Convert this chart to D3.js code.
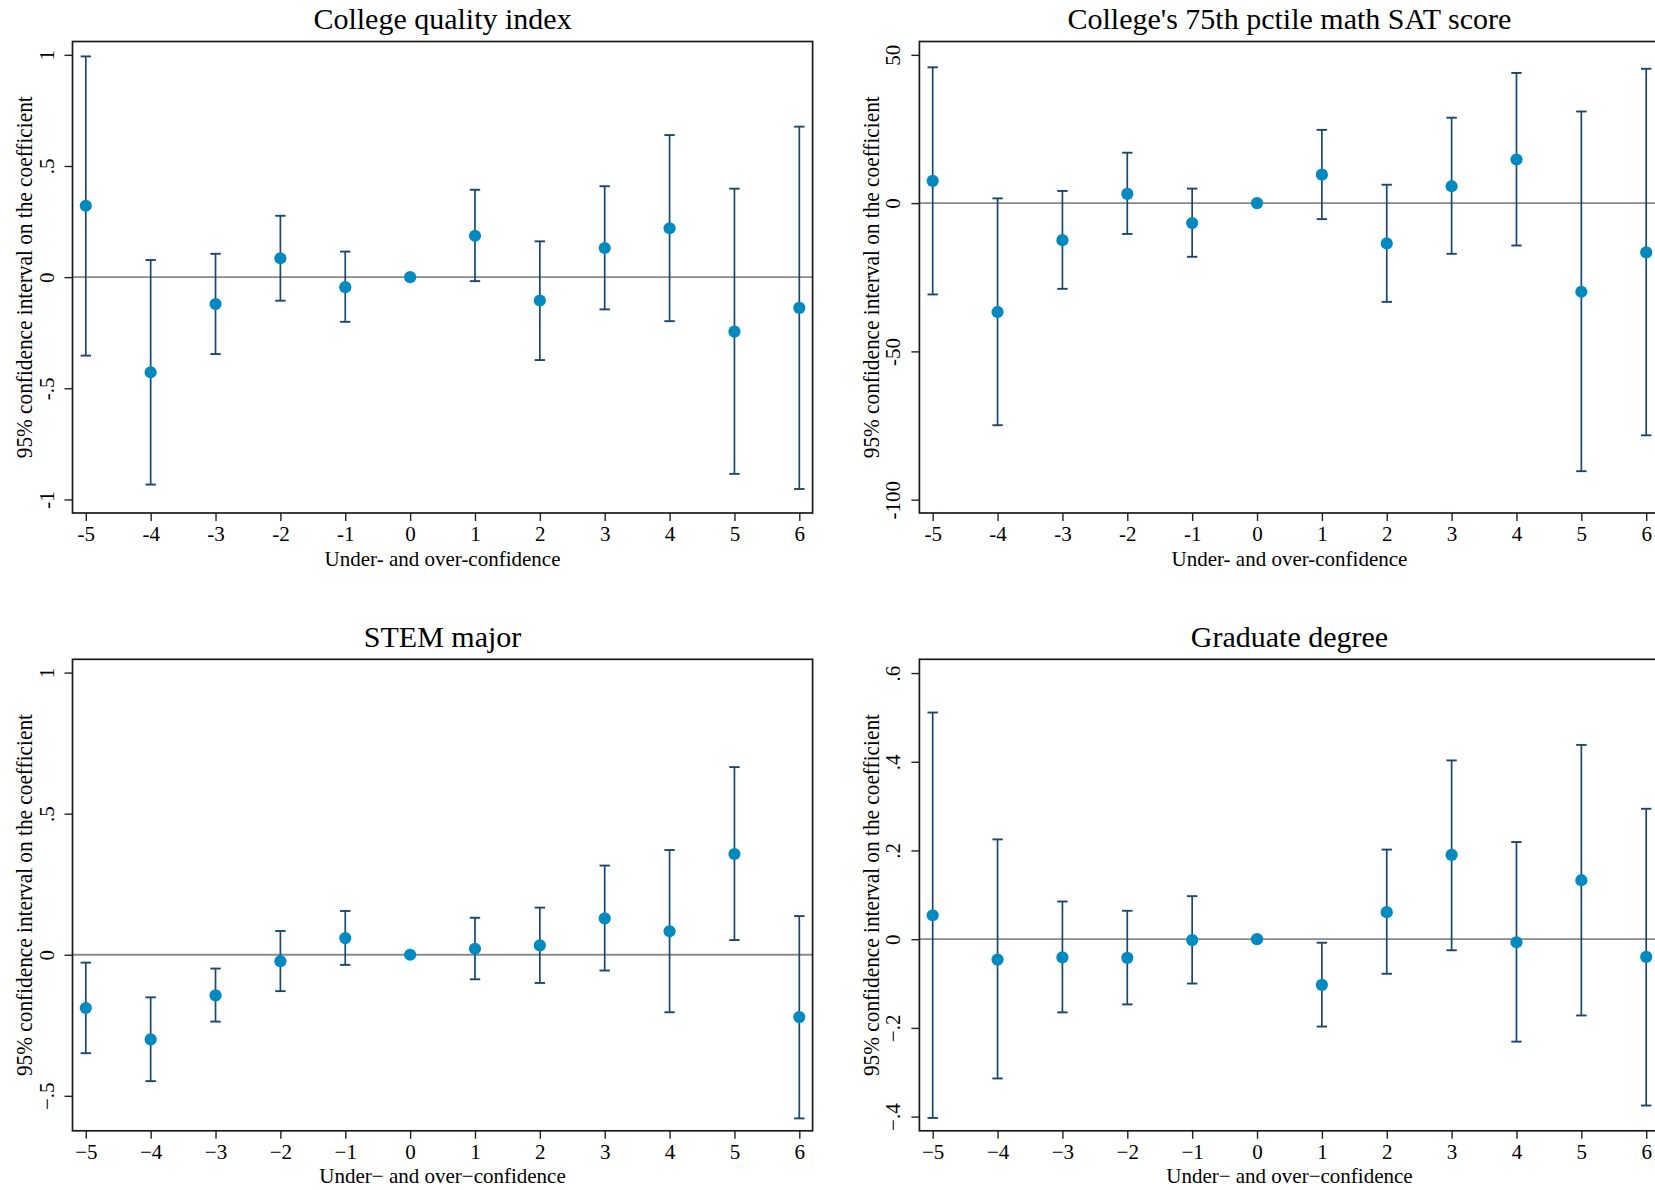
<!DOCTYPE html>
<html><head><meta charset="utf-8">
<script src="https://cdn.jsdelivr.net/npm/d3@7"></script>
<style>
html,body{margin:0;padding:0;background:#fff;overflow:hidden;}
svg{display:block;}
text{font-family:"Liberation Serif","Times New Roman",serif;fill:#000;}
</style></head>
<body>
<svg id="chart" width="1655" height="1190"></svg>
<script>
// ---------- data ----------
const categories = [-5,-4,-3,-2,-1,0,1,2,3,4,5,6];

const titles = ["College quality index","College's 75th pctile math SAT score","STEM major","Graduate degree"];
const yAxisTitle = "95% confidence interval on the coefficient";
const xAxisTitlesTop = "Under- and over-confidence";
const xAxisTitlesBottom = "Under\u2212 and over\u2212confidence";

const xTickLabelsTop = ["-5","-4","-3","-2","-1","0","1","2","3","4","5","6"];
const xTickLabelsBottom = ["\u22125","\u22124","\u22123","\u22122","\u22121","0","1","2","3","4","5","6"];

const cqiEst = [0.321,-0.428,-0.121,0.085,-0.045,0,0.186,-0.105,0.131,0.220,-0.245,-0.138];
const cqiLo  = [-0.353,-0.933,-0.346,-0.106,-0.201,0,-0.018,-0.373,-0.145,-0.198,-0.885,-0.953];
const cqiHi  = [0.993,0.077,0.105,0.276,0.115,0,0.393,0.161,0.409,0.639,0.398,0.677];
const cqiTicks = [1,0.5,0,-0.5,-1];
const cqiTickLabels = ["1",".5","0","-.5","-1"];

const satEst = [7.5,-36.7,-12.5,3.1,-6.7,0,9.6,-13.6,5.7,14.7,-29.9,-16.6];
const satLo  = [-30.8,-74.9,-28.9,-10.4,-18.1,0,-5.4,-33.3,-17.1,-14.3,-90.4,-78.3];
const satHi  = [45.8,1.6,4.1,17.0,4.9,0,24.7,6.2,28.8,43.9,30.9,45.3];
const satTicks = [50,0,-50,-100];
const satTickLabels = ["50","0","-50","-100"];

const stemEst = [-0.189,-0.300,-0.144,-0.023,0.059,0,0.021,0.033,0.129,0.083,0.357,-0.221];
const stemLo  = [-0.349,-0.448,-0.237,-0.129,-0.036,0,-0.087,-0.100,-0.056,-0.204,0.052,-0.580];
const stemHi  = [-0.028,-0.151,-0.049,0.084,0.155,0,0.131,0.167,0.316,0.371,0.665,0.137];
const stemTicks = [1,0.5,0,-0.5];
const stemTickLabels = ["1",".5","0","\u2212.5"];

const gradEst = [0.054,-0.046,-0.041,-0.042,-0.002,0,-0.103,0.061,0.190,-0.007,0.133,-0.040];
const gradLo  = [-0.403,-0.314,-0.165,-0.147,-0.100,0,-0.197,-0.078,-0.025,-0.231,-0.172,-0.375];
const gradHi  = [0.511,0.225,0.085,0.064,0.097,0,-0.008,0.202,0.403,0.219,0.438,0.294];
const gradTicks = [0.6,0.4,0.2,0,-0.2,-0.4];
const gradTickLabels = [".6",".4",".2","0","\u2212.2","\u2212.4"];

// ---------- layout ----------
const svg = d3.select("#chart");
const BOX_W = 740.1, BOX_H = 471.5;
const COL_X = [72.5, 919.4];
const ROW_Y = [41.5, 659.3];
const X_DOMAIN = [-5.205, 6.205];

const panels = [
  {title:titles[0], est:cqiEst, lo:cqiLo, hi:cqiHi, ticks:cqiTicks, tickLabels:cqiTickLabels, yDomain:[-1.061,1.060], xLabels:xTickLabelsTop, xTitle:xAxisTitlesTop, col:0, row:0},
  {title:titles[1], est:satEst, lo:satLo, hi:satHi, ticks:satTicks, tickLabels:satTickLabels, yDomain:[-104.5,54.5], xLabels:xTickLabelsTop, xTitle:xAxisTitlesTop, col:1, row:0},
  {title:titles[2], est:stemEst, lo:stemLo, hi:stemHi, ticks:stemTicks, tickLabels:stemTickLabels, yDomain:[-0.624,1.047], xLabels:xTickLabelsBottom, xTitle:xAxisTitlesBottom, col:0, row:1},
  {title:titles[3], est:gradEst, lo:gradLo, hi:gradHi, ticks:gradTicks, tickLabels:gradTickLabels, yDomain:[-0.432,0.631], xLabels:xTickLabelsBottom, xTitle:xAxisTitlesBottom, col:1, row:1}
];

const BAR_COLOR = "#1a476f";
const DOT_COLOR = "#008ac0";
const FONT = '"Liberation Serif","Times New Roman",serif';

panels.forEach(p => {
  const left = COL_X[p.col], top = ROW_Y[p.row];
  const g = svg.append("g").attr("transform", `translate(${left},${top})`);
  const x = d3.scaleLinear().domain(X_DOMAIN).range([0, BOX_W]);
  const y = d3.scaleLinear().domain(p.yDomain).range([BOX_H, 0]);

  // title
  g.append("text").attr("x", BOX_W/2).attr("y", -12.5)
    .attr("text-anchor","middle").style("font-size","30px").text(p.title);

  // zero line
  g.append("line").attr("x1",0).attr("x2",BOX_W).attr("y1",y(0)).attr("y2",y(0))
    .attr("stroke","#8a8a8a").attr("stroke-width",1.8);

  // y axis
  const yAxis = d3.axisLeft(y).tickValues(p.ticks).tickSize(8).tickFormat((d,i)=>p.tickLabels[i]);
  const ya = g.append("g").call(yAxis);
  ya.select(".domain").remove();
  ya.selectAll(".tick line").attr("stroke","#222").attr("stroke-width",1.4);
  ya.selectAll(".tick text")
    .attr("x",null).attr("dy",null)
    .attr("transform","translate(-19,0) rotate(-90)")
    .attr("text-anchor","middle")
    .style("font-size","21px").style("font-family",FONT).attr("fill","#000");

  // x axis
  const xAxis = d3.axisBottom(x).tickValues(categories).tickSize(8).tickFormat((d,i)=>p.xLabels[i]);
  const xa = g.append("g").attr("transform",`translate(0,${BOX_H})`).call(xAxis);
  xa.select(".domain").remove();
  xa.selectAll(".tick line").attr("stroke","#222").attr("stroke-width",1.4);
  xa.selectAll(".tick text").attr("y",27.8).attr("dy",null)
    .style("font-size","21px").style("font-family",FONT).attr("fill","#000");

  // axis titles
  g.append("text").attr("transform",`translate(-40.5,${BOX_H/2}) rotate(-90)`)
    .attr("text-anchor","middle").style("font-size","22.5px")
    .attr("textLength",362).attr("lengthAdjust","spacingAndGlyphs")
    .text(yAxisTitle);
  g.append("text").attr("x",BOX_W/2).attr("y",BOX_H+52.5)
    .attr("text-anchor","middle").style("font-size","21px").text(p.xTitle);

  // error bars
  const rows = categories.map((c,i)=>({c, e:p.est[i], lo:p.lo[i], hi:p.hi[i]}));
  const eb = g.append("g");
  eb.selectAll("line.bar").data(rows).join("line").attr("class","bar")
    .attr("x1",d=>x(d.c)).attr("x2",d=>x(d.c))
    .attr("y1",d=>y(d.lo)).attr("y2",d=>y(d.hi))
    .attr("stroke",BAR_COLOR).attr("stroke-width",1.7);
  ["lo","hi"].forEach(k=>{
    eb.selectAll("line.cap"+k).data(rows.filter(d=>d.hi!==d.lo)).join("line").attr("class","cap"+k)
      .attr("x1",d=>x(d.c)-5.2).attr("x2",d=>x(d.c)+5.2)
      .attr("y1",d=>y(d[k])).attr("y2",d=>y(d[k]))
      .attr("stroke",BAR_COLOR).attr("stroke-width",1.9);
  });
  // points
  g.append("g").selectAll("circle").data(rows).join("circle")
    .attr("cx",d=>x(d.c)).attr("cy",d=>y(d.e)).attr("r",6.1)
    .attr("fill",DOT_COLOR);

  // box
  g.append("rect").attr("x",0).attr("y",0).attr("width",BOX_W).attr("height",BOX_H)
    .attr("fill","none").attr("stroke","#1a1a1a").attr("stroke-width",1.7);
});
</script>
</body></html>
